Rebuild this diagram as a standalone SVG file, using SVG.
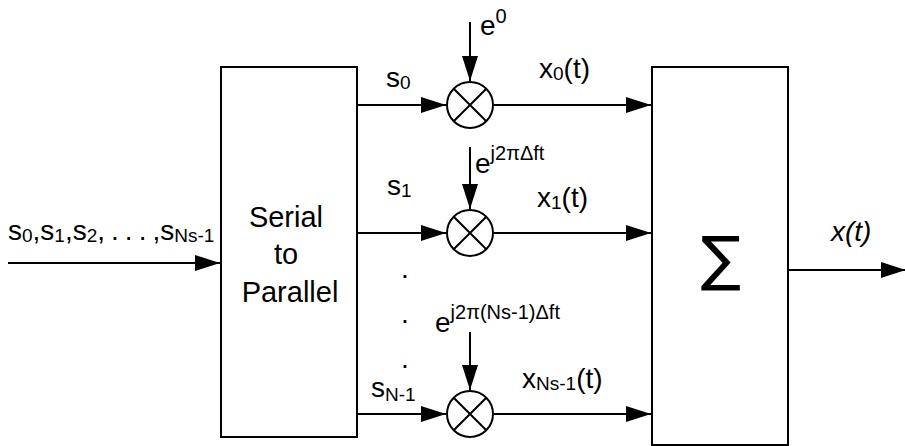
<svg xmlns="http://www.w3.org/2000/svg" width="905" height="446" viewBox="0 0 905 446">
<style>
  .box{fill:#fff;stroke:#000;stroke-width:2}
  .ln{fill:none;stroke:#000;stroke-width:2}
  .t{font-family:"Liberation Sans",Arial,sans-serif;fill:#000}
  .m{font-size:28px}
  .sub{font-size:19px}
  .sup{font-size:20px}
</style>
<defs>
  <marker id="ah" markerUnits="userSpaceOnUse" markerWidth="26" markerHeight="18" refX="25" refY="8" orient="auto">
    <path d="M0,0 L25,8 L0,16 Z" fill="#000"/>
  </marker>
</defs>
<rect width="905" height="446" fill="#fff"/>

<g id="connectors">
  <line class="ln" x1="8" y1="263" x2="220" y2="263" marker-end="url(#ah)"/>
  <line class="ln" x1="357" y1="105" x2="446" y2="105" marker-end="url(#ah)"/>
  <line class="ln" x1="357" y1="233" x2="446" y2="233" marker-end="url(#ah)"/>
  <line class="ln" x1="357" y1="414" x2="446" y2="414" marker-end="url(#ah)"/>
  <line class="ln" x1="470" y1="22" x2="470" y2="81" marker-end="url(#ah)"/>
  <line class="ln" x1="470" y1="147" x2="470" y2="209" marker-end="url(#ah)"/>
  <line class="ln" x1="470" y1="332" x2="470" y2="390" marker-end="url(#ah)"/>
  <line class="ln" x1="494" y1="105" x2="651" y2="105" marker-end="url(#ah)"/>
  <line class="ln" x1="494" y1="233" x2="651" y2="233" marker-end="url(#ah)"/>
  <line class="ln" x1="494" y1="414" x2="651" y2="414" marker-end="url(#ah)"/>
  <line class="ln" x1="788" y1="270" x2="906" y2="270" marker-end="url(#ah)"/>
</g>

<g id="serial-to-parallel">
  <rect class="box" x="221" y="67" width="136" height="370"/>
  <text class="t" font-size="29" text-anchor="middle">
    <tspan x="290" y="227">Serial</tspan>
    <tspan x="290" y="264">to</tspan>
    <tspan x="290" y="302">Parallel</tspan>
  </text>
</g>

<g id="sum">
  <rect class="box" x="652" y="67" width="136" height="378"/>
  <text x="721" y="279" font-family="DejaVu Sans,sans-serif" font-size="60" text-anchor="middle">∑</text>
</g>

<g id="mult0">
  <circle class="box" cx="470" cy="105" r="23"/>
  <path class="ln" d="M453.7,88.7 L486.3,121.3 M486.3,88.7 L453.7,121.3"/>
</g>
<g id="mult1">
  <circle class="box" cx="470" cy="233" r="23"/>
  <path class="ln" d="M453.7,216.7 L486.3,249.3 M486.3,216.7 L453.7,249.3"/>
</g>
<g id="multN">
  <circle class="box" cx="470" cy="414" r="23"/>
  <path class="ln" d="M453.7,397.7 L486.3,430.3 M486.3,397.7 L453.7,430.3"/>
</g>

<g id="labels" class="t">
  <text class="m" x="8" y="240">s<tspan class="sub" dy="2">0</tspan><tspan dy="-2">,s</tspan><tspan class="sub" dy="2">1</tspan><tspan dy="-2">,s</tspan><tspan class="sub" dy="2">2</tspan><tspan dy="-2" letter-spacing="6">,...</tspan><tspan dy="0">,s</tspan><tspan class="sub" dy="2">Ns-1</tspan></text>

  <text class="m" x="386" y="87">s<tspan class="sub" dy="2">0</tspan></text>
  <text class="m" x="387" y="195">s<tspan class="sub" dy="2">1</tspan></text>
  <text class="m" x="371" y="397">s<tspan class="sub" dy="4">N-1</tspan></text>

  <text class="m" x="480" y="35">e<tspan class="sup" dy="-12">0</tspan></text>
  <text class="m" x="475" y="173">e<tspan class="sup" dy="-13">j2πΔft</tspan></text>
  <text class="m" x="435" y="332">e<tspan class="sup" dy="-13">j2π(Ns-1)Δft</tspan></text>

  <text class="m" x="539" y="78">x<tspan class="sub" dy="2">0</tspan><tspan dy="-2">(t)</tspan></text>
  <text class="m" x="537" y="207">x<tspan class="sub" dy="2">1</tspan><tspan dy="-2">(t)</tspan></text>
  <text class="m" x="522" y="388">x<tspan class="sub" dy="2">Ns-1</tspan><tspan dy="-2">(t)</tspan></text>

  <text class="m" x="831" y="241" font-style="italic">x(t)</text>

  <text font-size="28" x="401" y="278">.</text>
  <text font-size="28" x="401" y="323">.</text>
  <text font-size="28" x="401" y="368">.</text>
</g>
</svg>
